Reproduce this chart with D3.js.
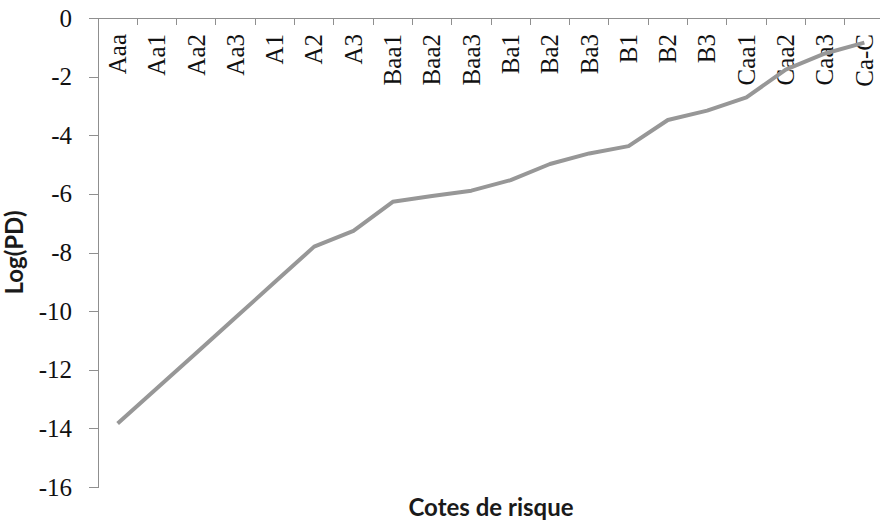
<!DOCTYPE html>
<html>
<head>
<meta charset="utf-8">
<script src="https://cdn.jsdelivr.net/npm/d3@7"></script>
<style>
body { margin: 0; background: #fff; }
.tick_lbl { font-family: "Liberation Serif", "DejaVu Serif", serif; font-size: 25px; fill: #111; }
.title { font-family: Lato, "Open Sans", sans-serif; font-weight: bold; font-size: 24px; fill: #1a1a1a; }
</style>
</head>
<body>
<div id="content"></div>
<script>
var cotes = ["Aaa", "Aa1", "Aa2", "Aa3", "A1", "A2", "A3", "Baa1", "Baa2", "Baa3",
	"Ba1", "Ba2", "Ba3", "B1", "B2", "B3", "Caa1", "Caa2", "Caa3", "Ca-C"];
var log_pd = [-13.83, -12.63, -11.43, -10.22, -9.01, -7.80, -7.26, -6.27, -6.07, -5.89,
	-5.53, -4.98, -4.62, -4.37, -3.48, -3.16, -2.71, -1.76, -1.21, -0.84];
var y_ticks = [0, -2, -4, -6, -8, -10, -12, -14, -16];

var W = 880, H = 521;
var m_left = 98, m_right = 884, m_top = 18, m_bottom = 487;

var svg = d3.select("#content").append("svg")
	.attr("width", W)
	.attr("height", H);

var x = d3.scaleBand().domain(cotes).range([m_left, m_right]);
var y = d3.scaleLinear().domain([-16, 0]).range([m_bottom, m_top]);

/* axes */
var yAxis = svg.append("g")
	.attr("transform", "translate(" + m_left + ",0)")
	.call(d3.axisLeft(y).tickValues(y_ticks).tickSize(9).tickSizeOuter(0).tickPadding(17).tickFormat(d3.format("d")));
yAxis.selectAll("line, path").attr("stroke", "#8f8f8f").attr("shape-rendering", "crispEdges");
yAxis.selectAll("text").attr("class", "tick_lbl").attr("fill", null)
	.text(function(d){ return d == 0 ? "0" : "-" + Math.abs(d); });
yAxis.attr("font-size", null).attr("font-family", null);

// category axis sits at y = 0, ticks between categories
var xAxis = svg.append("g")
	.attr("transform", "translate(0," + y(0) + ")");
xAxis.append("line")
	.attr("x1", m_left).attr("x2", m_right)
	.attr("y1", 0).attr("y2", 0)
	.attr("stroke", "#8f8f8f").attr("shape-rendering", "crispEdges");
xAxis.selectAll(".xtick")
	.data(cotes)
	.enter().append("line")
	.attr("class", "xtick")
	.attr("x1", function(d){ return x(d) + x.bandwidth(); })
	.attr("x2", function(d){ return x(d) + x.bandwidth(); })
	.attr("y1", 0).attr("y2", 7)
	.attr("stroke", "#8f8f8f").attr("shape-rendering", "crispEdges");
xAxis.selectAll(".xlbl")
	.data(cotes)
	.enter().append("text")
	.attr("class", "tick_lbl")
	.attr("transform", function(d){ return "translate(" + (x(d) + x.bandwidth()/2) + ",16) rotate(-90)"; })
	.attr("text-anchor", "end")
	.attr("dy", "0.33em")
	.text(function(d){ return d; });

/* line */
var line = d3.line()
	.x(function(d, i){ return x(cotes[i]) + x.bandwidth()/2; })
	.y(function(d){ return y(d); });

svg.append("path")
	.datum(log_pd)
	.attr("d", line)
	.attr("fill", "none")
	.attr("stroke", "#979797")
	.attr("stroke-width", 4)
	.attr("stroke-linejoin", "round");

/* titles */
svg.append("text")
	.attr("class", "title")
	.attr("x", (m_left + m_right)/2)
	.attr("y", 516)
	.attr("text-anchor", "middle")
	.text("Cotes de risque");

svg.append("text")
	.attr("class", "title")
	.attr("transform", "translate(23," + (m_top + m_bottom)/2 + ") rotate(-90)")
	.attr("text-anchor", "middle")
	.text("Log(PD)");
</script>
</body>
</html>
